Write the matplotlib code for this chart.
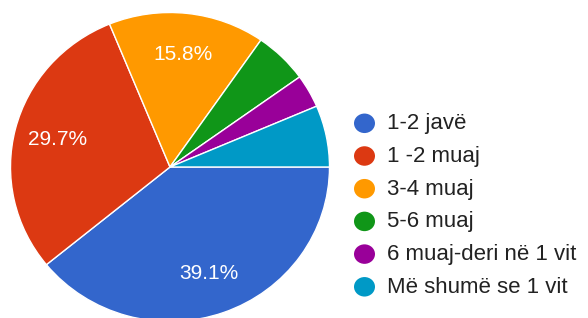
import matplotlib
matplotlib.use("Agg")
import matplotlib.pyplot as plt
from matplotlib.patches import Ellipse

categories = ["1-2 javë", "1 -2 muaj", "3-4 muaj", "5-6 muaj", "6 muaj-deri në 1 vit", "Më shumë se 1 vit"]
counts = [79, 60, 32, 11, 7, 13]
colors = ["#3366CC", "#DC3912", "#FF9900", "#109618", "#990099", "#0099C6"]

plt.rcParams['font.family'] = ['Liberation Sans', 'DejaVu Sans']

W, H = 588, 318
fig = plt.figure(figsize=(W / 100, H / 100), dpi=100)
cx, cy, Rx, Ry = 170, 167, 159.5, 154.5
ax = fig.add_axes([(cx - Rx) / W, (H - cy - Ry) / H, 2 * Rx / W, 2 * Ry / H])

wedges, texts, autotexts = ax.pie(
    counts, colors=colors, startangle=0, counterclock=False, radius=1,
    autopct=lambda p: f"{p:.1f}%" if p >= 10 else "", pctdistance=0.73,
    wedgeprops=dict(edgecolor="white", linewidth=1),
    textprops=dict(color="white", fontsize=15))
ax.set_xlim(-1, 1)
ax.set_ylim(-1, 1)
ax.set_aspect("auto")
ax.axis("off")

# legend
x_circ, y0, dy = 364.5, 123.3, 32.7
for i, (lab, col) in enumerate(zip(categories, colors)):
    y = y0 + i * dy
    fig.add_artist(Ellipse((x_circ / W, 1 - y / H), 21 / W, 19.5 / H,
                           facecolor=col, edgecolor="none", transform=fig.transFigure))
    fig.text(387 / W, 1 - (y + 0.5) / H, lab, fontsize=16, color="#222222",
             va="center", ha="left")

fig.savefig("out.png", dpi=100)
